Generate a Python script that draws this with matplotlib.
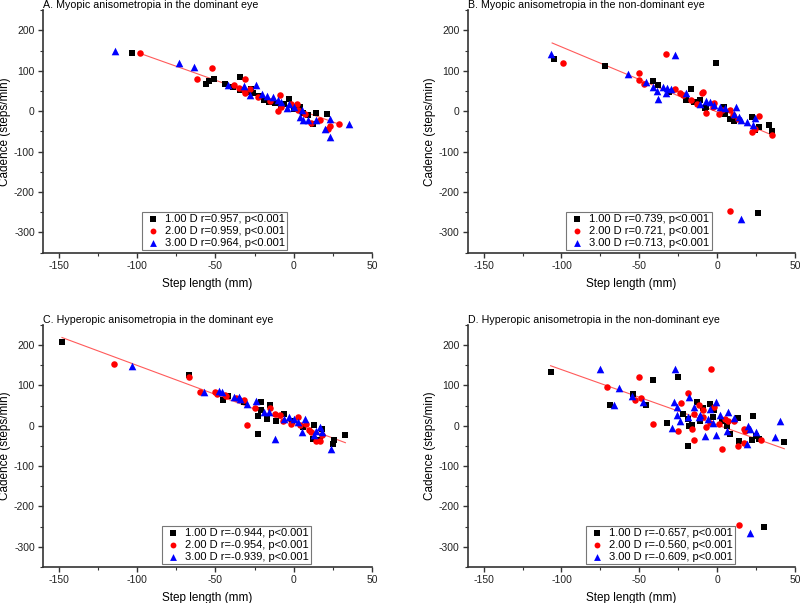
"""
Cadence vs step length, four panels (myopic / hyperopic anisometropia,
dominant / non-dominant eye), three lens powers per panel.
Output: out.png
"""

import matplotlib.pyplot as plt
from matplotlib.ticker import MultipleLocator

plt.rcParams["font.family"] = ["Liberation Sans", "DejaVu Sans"]
plt.rcParams["axes.unicode_minus"] = False

LENSES = ["1.00 D", "2.00 D", "3.00 D"]
COLORS = ["#000000", "#ff0000", "#0000ff"]
MARKERS = ["s", "o", "^"]

TITLES = [
    "A. Myopic anisometropia in the dominant eye",
    "B. Myopic anisometropia in the non-dominant eye",
    "C. Hyperopic anisometropia in the dominant eye",
    "D. Hyperopic anisometropia in the non-dominant eye",
]
STATS = [
    ["r=0.957, p<0.001", "r=0.959, p<0.001", "r=0.964, p<0.001"],
    ["r=0.739, p<0.001", "r=0.721, p<0.001", "r=0.713, p<0.001"],
    ["r=-0.944, p<0.001", "r=-0.954, p<0.001", "r=-0.939, p<0.001"],
    ["r=-0.657, p<0.001", "r=-0.560, p<0.001", "r=-0.609, p<0.001"],
]

# --- panel A ---
a_black_x = [-103, -56, -54, -51, -44, -34, -39, -34, -27, -26, -19, -16, -12, -3, -6, 4, 6, 9, 14, 12, 21, -22, -8, 0, -30]
a_black_y = [143, 68, 74, 81, 67, 86, 60, 52, 54, 44, 29, 23, 21, 31, 19, 11, -4, -10, -4, -32, -7, 38, 14, 5, 47]
a_red_x = [-98, -62, -52, -38, -31, -32, -28, -31, -23, -15, -9, -8, -2, -10, 2, 3, 7, 11, 17, 23, 22, 29, -35]
a_red_y = [143, 79, 106, 64, 81, 52, 54, 44, 35, 26, 40, 11, 17, 0, 17, 3, -6, -29, -22, -37, -45, -32, 58]
a_blue_x = [-114, -73, -64, -42, -32, -24, -20, -17, -13, -10, -8, -3, -4, 0, 5, 4, 6, 9, 14, 23, 20, 35, 23, -28]
a_blue_y = [149, 120, 110, 64, 62, 64, 42, 37, 35, 29, 23, 19, 9, 11, 2, -14, -22, -22, -22, -20, -43, -32, -63, 40]
a_fit_x = [-98, 29]
a_fit_y = [143, -32]

# --- panel B ---
b_black_x = [-105, -72, -1, -41, -38, -31, -17, -20, -15, -11, -7, -8, 4, 5, 8, 11, 22, 27, 33, 35, 24, 26]
b_black_y = [130, 113, 120, 75, 64, 48, 54, 27, 23, 27, 11, 7, 11, -6, -18, -24, -14, -39, -35, -49, -47, -253]
b_red_x = [-99, -33, -50, -50, -47, -27, -24, -22, -10, -9, -17, -13, -7, -3, -2, 1, 3, 8, 10, 13, 27, 22, 24, 35, 8]
b_red_y = [119, 141, 95, 78, 68, 54, 44, 41, 45, 48, 29, 17, -4, 11, 21, -6, 3, 2, -10, -18, -12, -51, -43, -59, -247]
b_blue_x = [-107, -27, -57, -46, -41, -39, -38, -35, -32, -30, -33, -20, -11, -7, -5, -2, 2, 5, 12, 11, 14, 15, 19, 24, 23, 15]
b_blue_y = [141, 140, 91, 72, 60, 50, 30, 60, 58, 56, 44, 44, 19, 26, 23, 15, 11, 7, 11, -7, -14, -22, -26, -16, -35, -267]
b_fit_x = [-106, 34]
b_fit_y = [169, -57]

# --- panel C ---
c_black_x = [-148, -67, -45, -42, -32, -21, -23, -23, -15, -21, -17, -11, -6, -1, 6, 13, 12, 18, 17, 26, 25, 33]
c_black_y = [207, 126, 63, 75, 58, 58, 23, -20, 52, 40, 17, 12, 28, 11, -3, 1, -32, -9, -36, -36, -45, -24]
c_red_x = [-115, -67, -60, -50, -49, -44, -43, -37, -32, -25, -30, -15, -12, -9, -7, -2, 3, 4, 8, 10, 11, 14, 17, 18]
c_red_y = [153, 120, 83, 85, 79, 77, 75, 68, 65, 44, 3, 44, 30, 27, 11, 5, 21, 1, 5, -10, -16, -39, -39, -24]
c_blue_x = [-103, -57, -48, -46, -38, -35, -34, -30, -24, -19, -16, -12, -6, -3, 0, 3, 7, 5, 14, 17, 13, 18, 24]
c_blue_y = [149, 85, 86, 85, 71, 71, 67, 54, 61, 34, 35, -32, 17, 21, 17, 9, 16, -16, -12, -3, -24, -16, -57]
c_fit_x = [-148, 33]
c_fit_y = [219, -42]

# --- panel D ---
d_black_x = [-107, -41, -25, -54, -46, -69, -13, -9, -5, -2, -22, -19, -18, -32, -16, -11, -3, 3, 6, 8, 13, -19, 23, 25, 27, 22, 14, 43, 30]
d_black_y = [133, 114, 122, 79, 52, 52, 58, 44, 54, 38, 30, 17, -1, 7, 3, 13, 21, 13, -1, -20, 19, -49, 24, -26, -32, -36, -39, -40, -250]
d_red_x = [-71, -50, -4, -41, -49, -53, -19, -23, -12, -15, -9, -2, -16, -25, -9, -7, -5, 1, 5, 7, 11, -15, 3, 17, 18, 28, 17, 13, 14]
d_red_y = [96, 120, 142, 5, 68, 63, 82, 57, 52, 30, 38, 46, -7, -12, 21, -3, 7, 5, 16, 13, 13, -36, -57, -7, -12, -36, -42, -50, -246]
d_blue_x = [-75, -27, -63, -66, -55, -48, -18, -28, -26, -15, -5, -1, -26, -24, -29, -19, -12, -11, -6, -3, 2, 7, 11, -8, -1, 6, 20, 21, 25, 19, 37, 40, 21]
d_blue_y = [142, 141, 93, 52, 75, 58, 72, 58, 46, 46, 42, 60, 26, 11, -6, 21, 21, 26, 17, 7, 26, 34, 19, -26, -22, -12, -1, -7, -16, -45, -28, 12, -265]
d_fit_x = [-107, 43]
d_fit_y = [149, -57]

PANELS = [
    ([(a_black_x, a_black_y), (a_red_x, a_red_y), (a_blue_x, a_blue_y)], (a_fit_x, a_fit_y)),
    ([(b_black_x, b_black_y), (b_red_x, b_red_y), (b_blue_x, b_blue_y)], (b_fit_x, b_fit_y)),
    ([(c_black_x, c_black_y), (c_red_x, c_red_y), (c_blue_x, c_blue_y)], (c_fit_x, c_fit_y)),
    ([(d_black_x, d_black_y), (d_red_x, d_red_y), (d_blue_x, d_blue_y)], (d_fit_x, d_fit_y)),
]

# axes rectangles in figure fractions (left, bottom, width, height)
RECTS = [
    (0.054, 0.581, 0.411, 0.402),
    (0.585, 0.581, 0.409, 0.402),
    (0.054, 0.060, 0.411, 0.401),
    (0.585, 0.060, 0.409, 0.401),
]
LEGEND_X = [0.30, 0.30, 0.36, 0.36]

fig = plt.figure(figsize=(8.0, 6.03), dpi=100)

for i, (series, fit) in enumerate(PANELS):
    ax = fig.add_axes(RECTS[i])
    ax.plot(fit[0], fit[1], color="#ff5a5a", linewidth=0.8, zorder=1)
    for (xs, ys), lens, stat, color, marker in zip(series, LENSES, STATS[i], COLORS, MARKERS):
        size = 30 if marker == "^" else 22
        ax.scatter(xs, ys, s=size, marker=marker, color=color, linewidths=0,
                   label=f"{lens} {stat}", zorder=3)

    ax.set_xlim(-160, 50)
    ax.set_ylim(-350, 250)
    ax.xaxis.set_major_locator(MultipleLocator(50))
    ax.xaxis.set_minor_locator(MultipleLocator(25))
    ax.yaxis.set_major_locator(MultipleLocator(100))
    ax.yaxis.set_minor_locator(MultipleLocator(50))
    ax.spines["top"].set_visible(False)
    ax.spines["right"].set_visible(False)
    for side in ("left", "bottom"):
        ax.spines[side].set_linewidth(1.2)
        ax.spines[side].set_color("#333333")
    ax.tick_params(which="major", direction="out", length=3.5, width=1, labelsize=7.5,
                   colors="#333333", labelcolor="#222222", pad=2.5)
    ax.tick_params(which="minor", direction="out", length=2, width=0.8, colors="#333333")

    ax.set_xlabel("Step length (mm)", fontsize=8.5, labelpad=5)
    ax.set_ylabel("Cadence (steps/min)", fontsize=8.5, labelpad=2)
    ax.set_title(TITLES[i], loc="left", fontsize=7.7, pad=1)

    leg = ax.legend(loc="lower left", bbox_to_anchor=(LEGEND_X[i], 0.012), fontsize=8,
                    frameon=True, fancybox=False, borderpad=0.2, labelspacing=0.15,
                    handletextpad=0.3, handlelength=1.6, markerscale=0.9, borderaxespad=0)
    leg.get_frame().set_edgecolor("#555555")
    leg.get_frame().set_linewidth(0.8)

fig.savefig("out.png", dpi=100)
